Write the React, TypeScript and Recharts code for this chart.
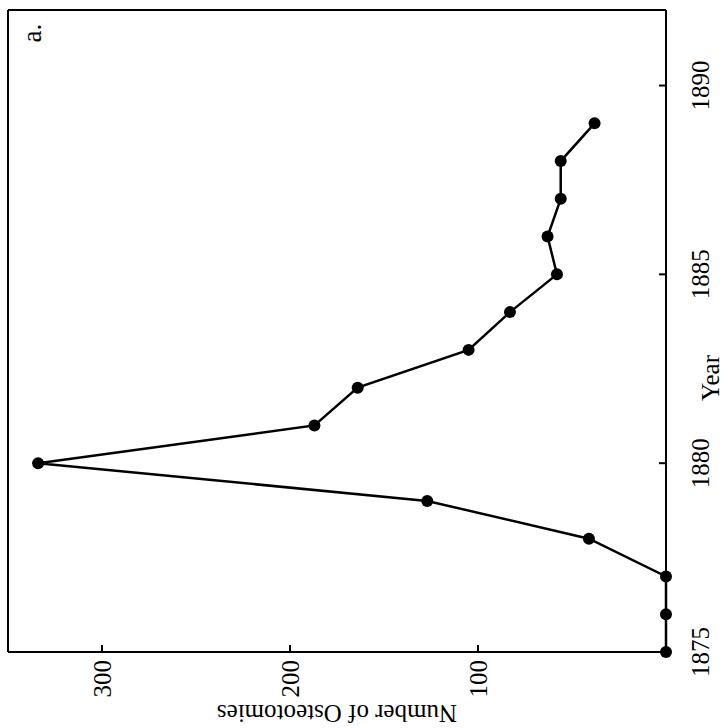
import React from 'react';
import { LineChart, Line, XAxis, YAxis, ReferenceLine } from 'recharts';

const years = [1875, 1876, 1877, 1878, 1879, 1880, 1881, 1882, 1883, 1884, 1885, 1886, 1887, 1888, 1889];
const osteotomies = [0, 0, 0, 41, 127, 334, 187, 164, 105, 83, 58, 63, 56, 56, 38];
const yearTicks = [1875, 1880, 1885, 1890];
const countTicks = [100, 200, 300];
const yearDomain = [1875, 1892];
const countDomain = [0, 350];

const data = years.map((y, i) => ({ year: y, count: osteotomies[i] }));

const FONT = '"Liberation Serif", "DejaVu Serif", serif';
const FS = 25;

const YearTick = (props: any) => {
  const { x, y, payload } = props;
  return (
    <g>
      {payload.value !== yearDomain[0] && (
        <line x1={x} y1={y} x2={x} y2={y - 7} stroke="#000" strokeWidth={2} />
      )}
      <text x={x} y={y + 34} textAnchor="middle" dominantBaseline="central" fontFamily={FONT} fontSize={FS} fill="#000">
        {payload.value}
      </text>
    </g>
  );
};

const CountTick = (props: any) => {
  const { x, y, payload } = props;
  return (
    <g>
      <line x1={x} y1={y} x2={x + 7} y2={y} stroke="#000" strokeWidth={2} />
      <text x={x - 8} y={y} textAnchor="end" dominantBaseline="central" fontFamily={FONT} fontSize={FS} fill="#000">
        {payload.value}
      </text>
    </g>
  );
};

const YearLabel = (props: any) => {
  const vb = props.viewBox || { x: 76, y: 666, width: 642 };
  return (
    <text x={vb.x + 274} y={vb.y + 44} textAnchor="middle" dominantBaseline="central" fontFamily={FONT} fontSize={FS} fill="#000">
      Year
    </text>
  );
};

const CountLabel = (props: any) => {
  const vb = props.viewBox || { x: 0, y: 8, width: 76, height: 658 };
  const cx = vb.x + 15;
  const cy = vb.y + vb.height / 2;
  return (
    <text x={cx} y={cy} transform={`rotate(-90, ${cx}, ${cy})`} textAnchor="middle" dominantBaseline="central" fontFamily={FONT} fontSize={25} fill="#000">
      Number of Osteotomies
    </text>
  );
};

const PanelLabel = (props: any) => {
  const vb = props.viewBox || { x: 718, y: 8 };
  return (
    <text x={vb.x - 23} y={vb.y + 24} textAnchor="middle" dominantBaseline="central" fontFamily={FONT} fontSize={27} fill="#000">
      a.
    </text>
  );
};

export default function App() {
  return (
    <>
      <style>{`body{margin:0;overflow:hidden;background:#fff}`}</style>
      <div
        style={{
          position: 'absolute',
          left: -1,
          top: 1,
          width: 728,
          height: 726,
          transform: 'rotate(-90deg)',
          transformOrigin: 'center center',
          background: '#fff',
        }}
      >
        <LineChart width={728} height={726} data={data} margin={{ top: 8, right: 10, bottom: 0, left: 0 }}>
          <XAxis
            dataKey="year"
            type="number"
            domain={yearDomain}
            ticks={yearTicks}
            height={60}
            tickSize={0}
            tickMargin={0}
            tickLine={false}
            tick={<YearTick />}
            axisLine={{ stroke: '#000', strokeWidth: 2 }}
            interval={0}
            label={<YearLabel />}
          />
          <YAxis
            type="number"
            domain={countDomain}
            ticks={countTicks}
            width={76}
            tickSize={0}
            tickMargin={0}
            tickLine={false}
            tick={<CountTick />}
            axisLine={{ stroke: '#000', strokeWidth: 2 }}
            interval={0}
            label={<CountLabel />}
          />
          <ReferenceLine y={350} stroke="#000" strokeWidth={2} />
          <ReferenceLine x={1892} stroke="#000" strokeWidth={2} label={<PanelLabel />} />
          <Line
            dataKey="count"
            stroke="#000"
            strokeWidth={2.5}
            dot={{ r: 6, fill: '#000', stroke: '#000', strokeWidth: 0 }}
            isAnimationActive={false}
          />
        </LineChart>
      </div>
    </>
  );
}
